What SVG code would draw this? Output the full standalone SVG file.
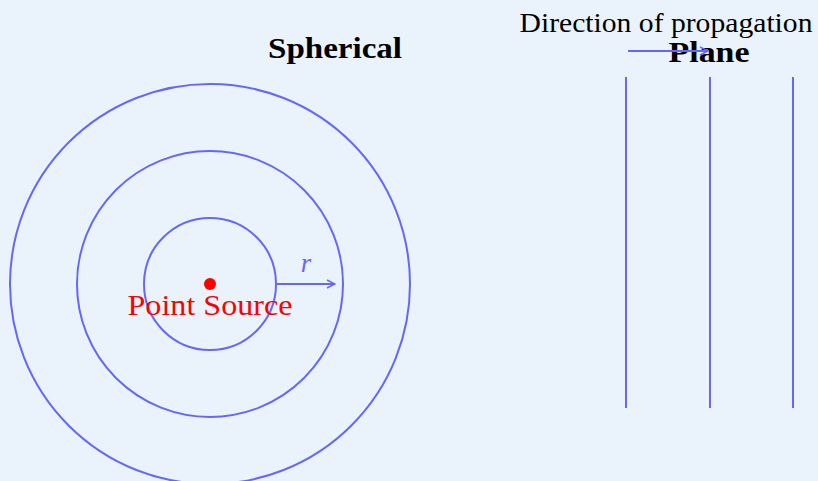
<svg xmlns="http://www.w3.org/2000/svg" width="818" height="481" viewBox="0 0 818 481">
<defs>
<style>
.w{fill:none;stroke:#6666FF;stroke-width:2}
.t{font-family:"Liberation Serif",serif;text-anchor:middle}
</style>
<marker id="ah" viewBox="0 0 10 10" refX="9" refY="5" markerWidth="10" markerHeight="10" markerUnits="userSpaceOnUse" orient="auto">
<path d="M1,1 L9,5 L1,9" fill="none" stroke="#6666FF" stroke-width="1.5"/>
</marker>
</defs>
<rect width="818" height="481" fill="#EAF3FB"/>
<g id="spherical">
<circle class="w" cx="210" cy="284" r="66"/>
<circle class="w" cx="210" cy="284" r="133"/>
<circle class="w" cx="210" cy="284" r="200"/>
<circle cx="210" cy="284" r="6" fill="#FF0000"/>
<text class="t" x="335" y="58" font-size="30" font-weight="bold" fill="#000" textLength="134" lengthAdjust="spacingAndGlyphs">Spherical</text>
<text class="t" x="210" y="315" font-size="29" fill="#FF0000" textLength="165" lengthAdjust="spacingAndGlyphs">Point Source</text>
<text class="t" x="306" y="272" font-size="27" font-style="italic" fill="#6666FF">r</text>
</g>
<g id="plane">
<line class="w" x1="626" y1="77" x2="626" y2="408"/>
<line class="w" x1="710" y1="77" x2="710" y2="408"/>
<line class="w" x1="793" y1="77" x2="793" y2="408"/>
<text class="t" x="666" y="32" font-size="27" fill="#000" textLength="293" lengthAdjust="spacingAndGlyphs">Direction of propagation</text>
<text class="t" x="709" y="62" font-size="30" font-weight="bold" fill="#000" textLength="81" lengthAdjust="spacingAndGlyphs">Plane</text>
</g>
<g id="connectors">
<line class="w" x1="277" y1="284" x2="335" y2="284" marker-end="url(#ah)"/>
<line class="w" x1="628" y1="51" x2="708" y2="51" marker-end="url(#ah)"/>
</g>
</svg>
